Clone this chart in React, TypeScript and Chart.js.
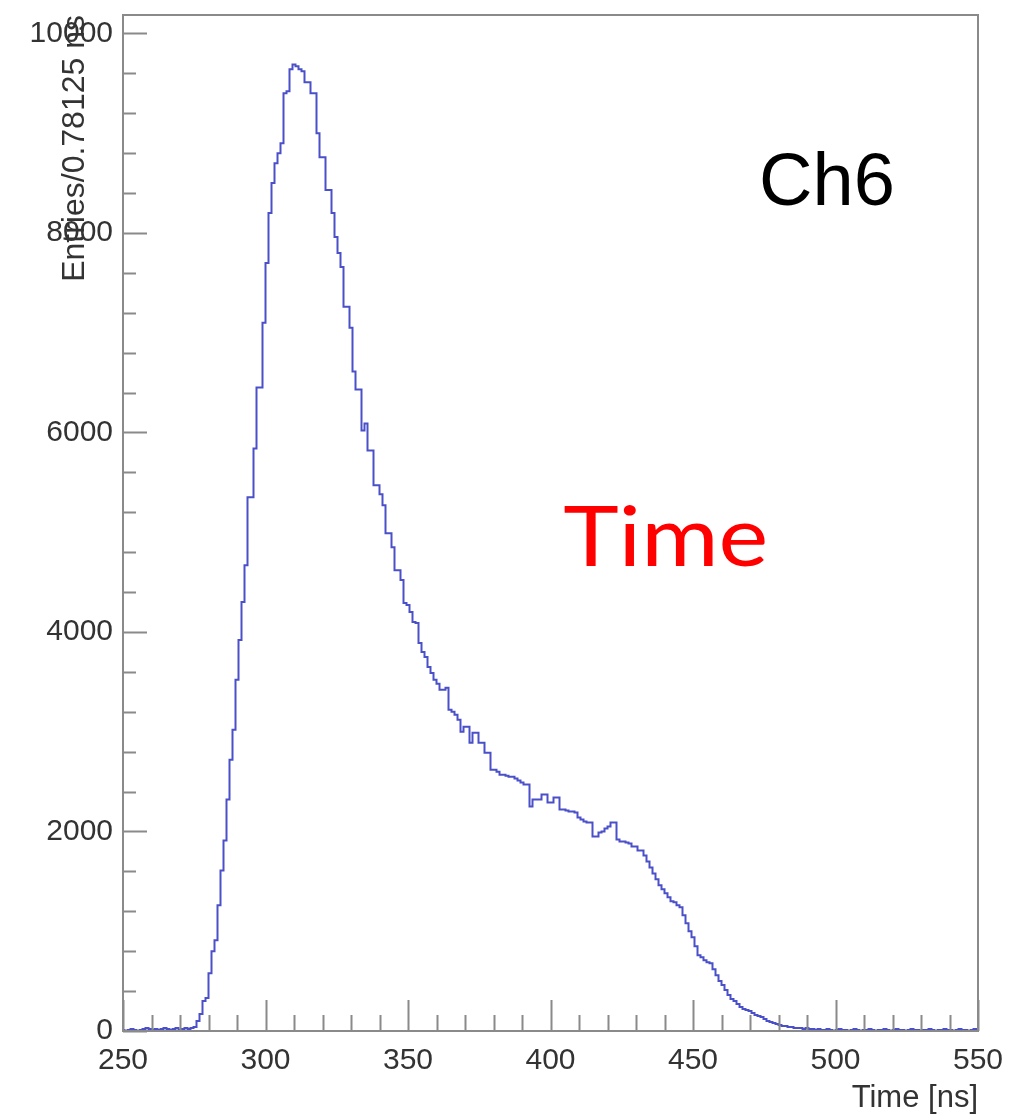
import React, { useEffect, useRef } from 'react';
import { Chart, registerables } from 'chart.js';

Chart.register(...registerables);

// ---- Data ----
const X_MIN = 250;
const X_MAX = 550;
const Y_MIN = 0;
const Y_MAX = 10185;
const X_TICKS = [250, 300, 350, 400, 450, 500, 550];
const Y_TICKS = [0, 2000, 4000, 6000, 8000, 10000];
const X_MINOR_STEP = 10;
const Y_MINOR_STEP = 400;

// bin centres: BIN_START + i * BIN_WIDTH (ns)
const BIN_START = 250;
const BIN_WIDTH = 300 / 285;

const COUNTS = [
  10, 0, 10, 20, 10, 0, 10, 20, 30, 20, 10, 20, 10, 20, 30, 20, 10, 20, 30, 10, 20, 30, 20, 30, 40,
  100, 170, 300, 330, 580,
  800, 910, 1260, 1610, 1910, 2320, 2720, 3020, 3520, 3920,
  4300, 4670, 5350, 5350, 5840, 6450, 6450, 7100, 7700, 8200,
  8500, 8700, 8800, 8900, 9400, 9420, 9640, 9690, 9670, 9640,
  9620, 9510, 9510, 9400, 9400, 9000, 8760, 8760, 8430, 8430,
  8200, 7960, 7800, 7660, 7260, 7260, 7050, 6610, 6430, 6430,
  6020, 6090, 5820, 5820, 5470, 5470, 5380, 5270, 4990, 4990,
  4850, 4620, 4620, 4520, 4290, 4270, 4200, 4100, 4090, 3890,
  3800, 3750, 3650, 3590, 3520, 3480, 3420, 3420, 3440, 3220,
  3200, 3170, 3120, 3000, 3050, 3050, 2890, 2990, 2990, 2890,
  2890, 2790, 2790, 2620, 2620, 2600, 2570, 2570, 2560, 2550,
  2550, 2530, 2510, 2490, 2470, 2470, 2250, 2320, 2320, 2320,
  2370, 2370, 2290, 2290, 2340, 2340, 2220, 2220, 2210, 2200,
  2200, 2190, 2140, 2120, 2100, 2090, 2090, 1950, 1950, 1990,
  2000, 2030, 2050, 2090, 2090, 1920, 1900, 1900, 1890, 1880,
  1850, 1850, 1810, 1810, 1760, 1700, 1640, 1580, 1520, 1460,
  1420, 1380, 1340, 1300, 1290, 1260, 1240, 1160, 1080, 1000,
  940, 850, 760, 740, 710, 690, 680, 620, 560, 500,
  460, 410, 360, 320, 300, 270, 240, 220, 210, 200,
  180, 160, 150, 140, 120, 100, 90, 80, 70, 60,
  50, 50, 40, 40, 30, 30, 30, 20, 30, 20,
  20, 10, 20, 10, 10, 20, 10, 0, 10, 20,
  10, 10, 0, 10, 20, 10, 0, 10, 10, 20,
  10, 0, 10, 10, 20, 10, 0, 10, 20, 10,
  10, 0, 10, 20, 10, 10, 0, 10, 10, 20,
  10, 0, 10, 10, 20, 10, 10, 0, 10, 20,
  10, 10, 0, 10, 20, 10,
];

const X_TITLE = 'Time [ns]';
const Y_TITLE = 'Entries/0.78125 ns';
const CHANNEL_LABEL = 'Ch6';
const PANEL_LABEL = 'Time';

// ---- Styles ----
const LINE_COLOR = '#4a50c8';
const FRAME_COLOR = '#8a8a8a';
const TEXT_COLOR = '#333333';
const FONT = '"Liberation Sans", Arial, Helvetica, sans-serif';

const rootStylePlugin = {
  id: 'rootStyle',
  afterDatasetsDraw(chart: any) {
    const { ctx, chartArea: a, scales } = chart;
    const x = scales.x;
    const y = scales.y;
    ctx.save();
    ctx.strokeStyle = FRAME_COLOR;
    ctx.lineWidth = 2;
    ctx.strokeRect(a.left, a.top, a.right - a.left, a.bottom - a.top);
    ctx.beginPath();
    for (let v = X_MIN; v <= X_MAX; v += X_MINOR_STEP) {
      const px = Math.round(x.getPixelForValue(v)) + 0.5;
      const len = X_TICKS.includes(v) ? 31 : 16;
      ctx.moveTo(px, a.bottom);
      ctx.lineTo(px, a.bottom - len);
    }
    for (let v = Y_MIN; v <= Y_MAX; v += Y_MINOR_STEP) {
      const py = Math.round(y.getPixelForValue(v)) + 0.5;
      const len = Y_TICKS.includes(v) ? 24 : 13;
      ctx.moveTo(a.left, py);
      ctx.lineTo(a.left + len, py);
    }
    ctx.stroke();
    ctx.restore();
  },
  afterDraw(chart: any) {
    const { ctx, chartArea: a } = chart;
    const w = a.right - a.left;
    const h = a.bottom - a.top;
    ctx.save();
    ctx.textBaseline = 'alphabetic';
    ctx.textAlign = 'left';
    ctx.fillStyle = '#000000';
    ctx.font = `74px ${FONT}`;
    ctx.fillText(CHANNEL_LABEL, a.left + w * 0.744, a.top + h * 0.187);
    ctx.fillStyle = '#ff0000';
    ctx.font = `84px Lato, "Open Sans", sans-serif`;
    ctx.translate(a.left + w * 0.515, a.top + h * 0.542);
    ctx.scale(1.12, 1);
    ctx.fillText(PANEL_LABEL, 0, 0);
    ctx.restore();
  },
};

export default function App() {
  const canvasRef = useRef<HTMLCanvasElement | null>(null);

  useEffect(() => {
    const canvas = canvasRef.current;
    if (!canvas) return;
    const points = COUNTS.map((c, i) => ({ x: BIN_START + i * BIN_WIDTH, y: c }));
    const chart = new Chart(canvas, {
      type: 'line',
      data: {
        datasets: [
          {
            data: points,
            borderColor: LINE_COLOR,
            borderWidth: 2,
            pointRadius: 0,
            fill: false,
            stepped: 'middle',
          },
        ],
      },
      options: {
        animation: false,
        responsive: true,
        maintainAspectRatio: false,
        layout: { padding: { top: 15, right: 31, left: 0, bottom: 0 } },
        plugins: { legend: { display: false }, tooltip: { enabled: false } },
        scales: {
          x: {
            type: 'linear',
            min: X_MIN,
            max: X_MAX,
            grid: { display: false },
            border: { display: false },
            afterBuildTicks: (scale: any) => {
              scale.ticks = X_TICKS.map((v) => ({ value: v }));
            },
            afterFit: (scale: any) => {
              scale.height = 87;
              scale.paddingLeft = 0;
              scale.paddingRight = 0;
            },
            ticks: {
              autoSkip: false,
              maxRotation: 0,
              padding: 4,
              color: TEXT_COLOR,
              font: { family: FONT, size: 30, lineHeight: 1.2 },
              callback: (v: any) => String(v),
            },
            title: {
              display: true,
              text: X_TITLE,
              align: 'end',
              color: TEXT_COLOR,
              font: { family: FONT, size: 31, lineHeight: 1.2 },
              padding: { top: 0, bottom: 1 },
            },
          },
          y: {
            type: 'linear',
            min: Y_MIN,
            max: Y_MAX,
            grid: { display: false },
            border: { display: false },
            afterBuildTicks: (scale: any) => {
              scale.ticks = Y_TICKS.map((v) => ({ value: v }));
            },
            afterFit: (scale: any) => {
              scale.width = 123;
              scale.paddingTop = 0;
              scale.paddingBottom = 0;
            },
            ticks: {
              padding: 2,
              color: TEXT_COLOR,
              font: { family: FONT, size: 30, lineHeight: 1.0 },
              callback: (v: any) => String(v),
            },
            title: {
              display: true,
              text: Y_TITLE,
              align: 'end',
              color: TEXT_COLOR,
              font: { family: FONT, size: 32, lineHeight: 1.2 },
              padding: { top: 56, bottom: 0 },
            },
          },
        },
      },
      plugins: [rootStylePlugin],
    });
    return () => chart.destroy();
  }, []);

  return (
    <div style={{ position: 'fixed', left: 0, top: 0, width: 1009, height: 1118, background: '#ffffff' }}>
      <canvas ref={canvasRef} />
    </div>
  );
}
